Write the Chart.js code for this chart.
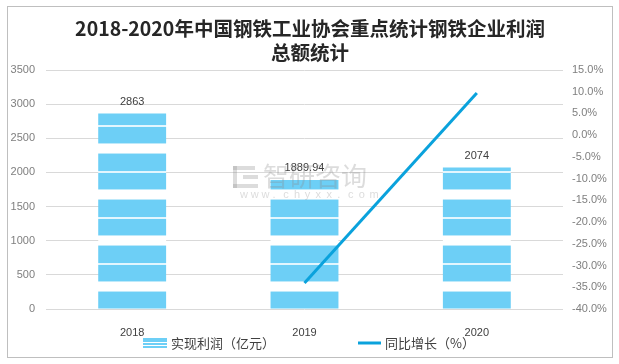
<!DOCTYPE html>
<html>
<head>
<meta charset="utf-8">
<script src="https://cdn.jsdelivr.net/npm/chart.js@4/dist/chart.umd.min.js"></script>
<style>
  html, body { margin: 0; padding: 0; background: #fff; }
  #wrap { width: 619px; height: 364px; }
</style>
</head>
<body>
<div id="wrap"><canvas id="chart" width="619" height="364"></canvas></div>
<script>
const years = ['2018', '2019', '2020'];
const profit = [2863, 1889.94, 2074];          // 实现利润（亿元）
const growth = [null, -34.0, 9.7];             // 同比增长（%）
const titleLines = ['2018-2020年中国钢铁工业协会重点统计钢铁企业利润', '总额统计'];
const legendNames = ['实现利润（亿元）', '同比增长（%）'];

const BAR_BLUE = '#6DCFF6';
const LINE_BLUE = '#0AA2DC';
const FONT = "'Liberation Sans', 'Noto Sans CJK SC', sans-serif";

// striped fill like the Excel pattern
function makeStripes() {
  const c = document.createElement('canvas');
  c.width = 8; c.height = 46;
  const g = c.getContext('2d');
  g.fillStyle = BAR_BLUE;
  g.fillRect(0, 0, 8, 46);
  g.fillStyle = '#BDE9FA';
  g.fillRect(0, 5, 8, 1);
  g.fillRect(0, 15, 8, 1);
  g.fillStyle = '#ffffff';
  g.fillRect(0, 6, 8, 9);
  g.fillStyle = '#E2F6FE';
  g.fillRect(0, 33, 8, 2);
  return g.createPattern(c, 'repeat');
}
const stripes = makeStripes();

const decor = {
  id: 'decor',
  beforeDraw(chart) {
    const ctx = chart.ctx;
    ctx.save();
    ctx.strokeStyle = '#BFBFBF';
    ctx.lineWidth = 1;
    ctx.strokeRect(7.5, 6.5, 605, 351);
    ctx.fillStyle = '#262626';
    ctx.font = "bold 19.5px 'Noto Sans CJK SC', sans-serif";
    ctx.textAlign = 'center';
    ctx.textBaseline = 'middle';
    ctx.fillText(titleLines[0], 310, 29);
    ctx.fillText(titleLines[1], 310, 53);
    ctx.restore();
  },
  afterDatasetsDraw(chart) {
    const ctx = chart.ctx;
    ctx.save();
    // value labels above the bars
    const meta = chart.getDatasetMeta(0);
    ctx.fillStyle = '#404040';
    ctx.font = '11px ' + FONT;
    ctx.textAlign = 'center';
    ctx.textBaseline = 'bottom';
    meta.data.forEach((bar, i) => {
      ctx.fillText(String(profit[i]), bar.x, bar.y - 6);
    });
    // watermark
    ctx.globalAlpha = 0.3;
    ctx.fillStyle = '#8c8c8c';
    ctx.font = "26px 'Noto Sans CJK SC', sans-serif";
    ctx.textAlign = 'left';
    ctx.textBaseline = 'middle';
    ctx.fillText('智研咨询', 263, 176);
    ctx.font = '11px ' + FONT;
    const w = 'www.chyxx.com';
    for (let k = 0; k < w.length; k++) ctx.fillText(w[k], 240 + k * 10.8, 195);
    ctx.fillRect(233, 166, 22, 4);
    ctx.fillRect(233, 166, 4, 22);
    ctx.fillRect(243, 175, 15, 4);
    ctx.fillRect(233, 184, 25, 4);
    ctx.globalAlpha = 1;
    // legend
    ctx.fillStyle = stripes;
    ctx.fillRect(143, 338, 24, 10);
    ctx.fillStyle = '#ffffff';
    ctx.fillRect(143, 342, 24, 1);
    ctx.fillRect(143, 345, 24, 1);
    ctx.strokeStyle = LINE_BLUE;
    ctx.lineWidth = 3;
    ctx.beginPath();
    ctx.moveTo(358, 343);
    ctx.lineTo(381, 343);
    ctx.stroke();
    ctx.fillStyle = '#404040';
    ctx.font = "13px 'Noto Sans CJK SC', sans-serif";
    ctx.textAlign = 'left';
    ctx.textBaseline = 'middle';
    ctx.fillText(legendNames[0], 171, 343);
    ctx.fillText(legendNames[1], 385, 343);
    ctx.restore();
  }
};

new Chart(document.getElementById('chart').getContext('2d'), {
  type: 'bar',
  data: {
    labels: years,
    datasets: [
      {
        type: 'bar',
        label: legendNames[0],
        data: profit,
        yAxisID: 'y',
        backgroundColor: stripes,
        borderWidth: 0,
        categoryPercentage: 1,
        barPercentage: 0.394,
        order: 2
      },
      {
        type: 'line',
        label: legendNames[1],
        data: growth,
        yAxisID: 'y1',
        borderColor: LINE_BLUE,
        backgroundColor: LINE_BLUE,
        borderWidth: 3,
        pointRadius: 0,
        fill: false,
        tension: 0,
        order: 1
      }
    ]
  },
  options: {
    responsive: false,
    animation: false,
    layout: { padding: { top: 70, left: 0, right: 0, bottom: 0 } },
    plugins: {
      legend: { display: false },
      title: { display: false },
      tooltip: { enabled: false }
    },
    scales: {
      x: {
        grid: { display: false },
        border: { display: false },
        ticks: { color: '#404040', font: { size: 11, family: FONT }, padding: 9 },
        afterFit(scale) { scale.height = 55; }
      },
      y: {
        position: 'left',
        min: 0,
        max: 3500,
        ticks: {
          stepSize: 500,
          color: '#7F7F7F',
          font: { size: 11, family: FONT },
          padding: 11,
          callback: v => String(v)
        },
        grid: { color: '#D9D9D9', drawTicks: false },
        border: { display: false },
        afterFit(scale) { scale.width = 46; }
      },
      y1: {
        position: 'right',
        min: -40,
        max: 15,
        ticks: {
          stepSize: 5,
          color: '#7F7F7F',
          font: { size: 11, family: FONT },
          padding: 9,
          callback: v => v.toFixed(1) + '%'
        },
        grid: { display: false, drawTicks: false },
        border: { display: false },
        afterFit(scale) { scale.width = 56; }
      }
    }
  },
  plugins: [decor]
});
</script>
</body>
</html>
